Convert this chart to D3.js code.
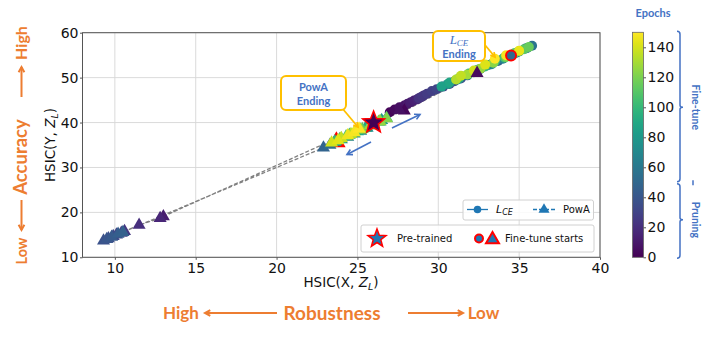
<!DOCTYPE html>
<html>
<head>
<meta charset="utf-8">
<script src="https://cdn.jsdelivr.net/npm/d3@7"></script>
<style>
  body { margin: 0; background: #fff; }
</style>
</head>
<body>
<svg id="chart" width="706" height="339"></svg>
<script>
// L_CE trajectory (epoch, HSIC(X,Z_L), HSIC(Y,Z_L))
var lceEpoch = [0,2,4,6,8,10,12,14,16,18,20,22,24,26,28,30,32,34,36,38,40,42,44,46,48,50,
  52,55,58,61,64,67,70,73,76,79,82,85,88,91,94,97,100,103,106,109,112,115,118,121,124,127,130,133,136,139,142,145,148,150];
var lceX = [26.0,27.0,27.3,27.6,27.9,28.1,28.3,28.5,28.7,28.9,29.1,28.8,29.0,29.3,29.6,29.9,30.3,30.7,31.0,31.4,31.8,32.2,32.6,33.1,33.7,34.5,
  35.0,35.5,35.8,35.4,34.8,34.0,33.3,32.5,31.8,31.2,30.6,30.2,30.7,31.3,31.9,32.4,32.9,33.5,34.1,34.7,35.3,35.6,35.0,34.2,33.4,32.6,31.8,31.1,31.4,32.2,32.9,35.0,34.2,33.5];
var lceY = [40.0,42.3,42.9,43.4,43.8,44.2,44.5,44.9,45.2,45.6,46.0,45.4,45.8,46.4,47.0,47.4,48.0,48.6,49.2,49.8,50.5,51.2,51.9,52.8,53.7,54.9,
  55.8,56.6,57.1,56.5,55.5,54.2,53.0,51.8,50.6,49.6,48.6,48.0,48.9,49.9,50.9,51.7,52.5,53.6,54.5,55.4,56.3,56.8,55.9,54.6,53.3,52.0,50.7,49.6,50.4,51.6,52.9,56.0,55.0,54.2];

// PowA trajectory
var powaEpoch = [0,2,4,6,12,16,20,24,27,30,33,36,38,40,42,44,46,48,50,
  53,56,59,62,65,68,71,74,77,80,83,86,89,92,95,98,101,104,107,110,113,116,119,122,125,128,131,134,137,140,143,146,148,150];
var powaX = [26.0,27.9,32.4,27.6,13.0,12.8,11.5,10.6,10.4,10.1,9.9,9.6,9.3,9.5,9.8,10.2,10.5,22.9,23.7,
  23.3,23.6,24.0,24.4,24.8,25.2,25.6,26.0,26.4,26.8,26.5,26.0,25.5,25.0,24.5,24.0,23.6,23.9,24.3,24.8,25.3,25.8,26.3,26.8,26.4,25.8,25.2,24.6,24.0,23.4,23.8,24.4,24.8,25.1];
var powaY = [40.0,42.6,51.0,42.8,19.1,18.7,17.2,15.8,15.4,15.0,14.7,14.2,13.7,14.0,14.5,15.2,15.6,34.4,35.7,
  35.0,35.6,36.2,36.8,37.5,38.1,38.8,39.5,40.2,41.0,40.5,39.6,38.8,38.0,37.2,36.4,35.8,36.3,36.9,37.7,38.5,39.3,40.1,40.9,40.3,39.4,38.4,37.4,36.5,35.5,36.0,37.1,37.8,38.6];

var pretrained = [26.0, 40.0];
var fineTuneEpoch = 50;

var xTicks = [10,15,20,25,30,35,40];
var yTicks = [10,20,30,40,50,60];
var cbTicks = [0,20,40,60,80,100,120,140];

var BLUE = '#4472C4', ORANGE = '#ED7D31', GOLD = '#FFC000', MPL = '#1f77b4';
var svg = d3.select('#chart');

var x = d3.scaleLinear().domain([8, 40]).range([82.5, 600]);
var y = d3.scaleLinear().domain([10, 60]).range([257.3, 32.7]);
var color = d3.scaleSequential(d3.interpolateViridis).domain([0, 150]);
var cb = d3.scaleLinear().domain([0, 150]).range([257.3, 32.3]);

var lce = lceEpoch.map(function(e, i) { return {e: e, x: lceX[i], y: lceY[i]}; });
var powa = powaEpoch.map(function(e, i) { return {e: e, x: powaX[i], y: powaY[i]}; });

function starPath(R, r) {
  var pts = d3.range(10).map(function(i) {
    var a = -Math.PI / 2 + i * Math.PI / 5, rr = i % 2 ? r : R;
    return [rr * Math.cos(a), rr * Math.sin(a)];
  });
  return 'M' + pts.join('L') + 'Z';
}
function triPath(s) {
  var h = s * Math.sqrt(3) / 2;
  return 'M0,' + (-h * 2 / 3) + 'L' + (s / 2) + ',' + (h / 3) + 'L' + (-s / 2) + ',' + (h / 3) + 'Z';
}
function arrow(g, x1, y1, x2, y2, col, w, head) {
  var a = Math.atan2(y2 - y1, x2 - x1);
  g.append('line').attr('x1', x1).attr('y1', y1).attr('x2', x2).attr('y2', y2)
    .attr('stroke', col).attr('stroke-width', w);
  var p1 = [x2 - head * Math.cos(a - 0.5), y2 - head * Math.sin(a - 0.5)];
  var p2 = [x2 - head * Math.cos(a + 0.5), y2 - head * Math.sin(a + 0.5)];
  g.append('path').attr('d', 'M' + p1 + 'L' + [x2, y2] + 'L' + p2)
    .attr('fill', 'none').attr('stroke', col).attr('stroke-width', w).attr('stroke-linejoin', 'miter');
}

// grid
var grid = svg.append('g');
grid.selectAll('line.gx').data(xTicks).join('line')
  .attr('x1', function(d) { return x(d); }).attr('x2', function(d) { return x(d); })
  .attr('y1', y(10)).attr('y2', y(60)).attr('stroke', '#d6d6d6').attr('stroke-width', 0.9);
grid.selectAll('line.gy').data(yTicks).join('line')
  .attr('y1', function(d) { return y(d); }).attr('y2', function(d) { return y(d); })
  .attr('x1', x(8)).attr('x2', x(40)).attr('stroke', '#d6d6d6').attr('stroke-width', 0.9);

// axes
function styleAxis(g) {
  g.select('.domain').remove();
  g.selectAll('line').attr('stroke', '#555');
  g.selectAll('text').attr('font-family', 'DejaVu Sans').attr('font-size', 14).attr('fill', '#111');
}
svg.append('g').attr('transform', 'translate(0,' + y(10) + ')')
  .call(d3.axisBottom(x).tickValues(xTicks).tickSize(2.5).tickPadding(3)).call(styleAxis);
svg.append('g').attr('transform', 'translate(' + x(8) + ',0)')
  .call(d3.axisLeft(y).tickValues(yTicks).tickSize(2.5).tickPadding(1.5)).call(styleAxis);

// trajectories
var plot = svg.append('g');
var line = d3.line().x(function(d) { return x(d.x); }).y(function(d) { return y(d.y); });
plot.append('path').datum(lce).attr('d', line).attr('fill', 'none')
  .attr('stroke', '#808080').attr('stroke-width', 1.2);
plot.append('path').datum(powa).attr('d', line).attr('fill', 'none')
  .attr('stroke', '#808080').attr('stroke-width', 1.3).attr('stroke-dasharray', '4,2');

plot.selectAll('circle.lce').data(lce.slice(1)).join('circle')
  .attr('cx', function(d) { return x(d.x); }).attr('cy', function(d) { return y(d.y); })
  .attr('r', 5).attr('fill', function(d) { return color(d.e); });

var powaStart = powa.filter(function(d) { return d.e === fineTuneEpoch; })[0];
plot.append('path').attr('d', triPath(15))
  .attr('transform', 'translate(' + x(powaStart.x) + ',' + y(powaStart.y) + ')')
  .attr('fill', color(fineTuneEpoch)).attr('stroke', 'red').attr('stroke-width', 2);

plot.selectAll('path.powa').data(powa.slice(1).filter(function(d) { return d.e !== fineTuneEpoch; })).join('path')
  .attr('d', triPath(13))
  .attr('transform', function(d) { return 'translate(' + x(d.x) + ',' + y(d.y) + ')'; })
  .attr('fill', function(d) { return color(d.e); });

var lceStart = lce.filter(function(d) { return d.e === fineTuneEpoch; })[0];
plot.append('circle').attr('cx', x(lceStart.x)).attr('cy', y(lceStart.y)).attr('r', 5)
  .attr('fill', color(fineTuneEpoch)).attr('stroke', 'red').attr('stroke-width', 2);

plot.append('path').attr('d', starPath(11.5, 5))
  .attr('transform', 'translate(' + x(pretrained[0]) + ',' + y(pretrained[1]) + ')')
  .attr('fill', color(0)).attr('stroke', 'red').attr('stroke-width', 1.5);

// spines
svg.append('rect').attr('x', x(8)).attr('y', y(60)).attr('width', x(40) - x(8)).attr('height', y(10) - y(60))
  .attr('fill', 'none').attr('stroke', '#555').attr('stroke-width', 1);

// axis labels
var xl = svg.append('text').attr('x', 341).attr('y', 287).attr('text-anchor', 'middle')
  .attr('font-family', 'DejaVu Sans').attr('font-size', 13.5).attr('fill', '#111');
xl.append('tspan').text('HSIC(X, ');
xl.append('tspan').attr('font-style', 'italic').text('Z');
xl.append('tspan').attr('font-style', 'italic').attr('font-size', 9.5).attr('dy', 3).text('L');
xl.append('tspan').attr('dy', -3).text(')');

var yl = svg.append('text').attr('transform', 'translate(55,145) rotate(-90)').attr('text-anchor', 'middle')
  .attr('font-family', 'DejaVu Sans').attr('font-size', 13.5).attr('fill', '#111');
yl.append('tspan').text('HSIC(Y, ');
yl.append('tspan').attr('font-style', 'italic').text('Z');
yl.append('tspan').attr('font-style', 'italic').attr('font-size', 9.5).attr('dy', 3).text('L');
yl.append('tspan').attr('dy', -3).text(')');

// annotation arrows inside the plot
var ann = svg.append('g');
arrow(ann, 392, 128, 420, 114.5, BLUE, 1.6, 6);
arrow(ann, 371, 142, 347, 154.5, BLUE, 1.6, 6);

// callout boxes
function callout(x0, y0, w, h) {
  ann.append('rect').attr('x', x0).attr('y', y0).attr('width', w).attr('height', h).attr('rx', 5)
    .attr('fill', '#fff').attr('stroke', GOLD).attr('stroke-width', 2);
}
arrow(ann, 342, 108, 358, 127, GOLD, 1.8, 5);
callout(281, 76, 65, 34);
ann.append('text').attr('x', 313.5).attr('y', 91).attr('text-anchor', 'middle')
  .attr('font-family', 'Lato').attr('font-weight', 'bold').attr('font-size', 11).attr('fill', BLUE).text('PowA');
ann.append('text').attr('x', 313.5).attr('y', 105).attr('text-anchor', 'middle')
  .attr('font-family', 'Lato').attr('font-weight', 'bold').attr('font-size', 11).attr('fill', BLUE).text('Ending');

arrow(ann, 485, 45, 495, 57, GOLD, 1.8, 5);
callout(433, 31, 52, 30);
var lt = ann.append('text').attr('x', 459).attr('y', 44).attr('text-anchor', 'middle')
  .attr('font-family', 'Liberation Serif').attr('font-style', 'italic').attr('font-size', 13).attr('fill', BLUE);
lt.append('tspan').text('L');
lt.append('tspan').attr('font-size', 9).attr('dy', 2).text('CE');
ann.append('text').attr('x', 459).attr('y', 57.5).attr('text-anchor', 'middle')
  .attr('font-family', 'Lato').attr('font-weight', 'bold').attr('font-size', 11).attr('fill', BLUE).text('Ending');

// legends
var lg = svg.append('g').attr('font-family', 'DejaVu Sans').attr('font-size', 10).attr('fill', '#111');
lg.append('rect').attr('x', 463).attr('y', 200).attr('width', 130.5).attr('height', 20).attr('rx', 2)
  .attr('fill', '#fff').attr('fill-opacity', 0.85).attr('stroke', '#d0d0d0');
lg.append('line').attr('x1', 467).attr('x2', 488).attr('y1', 209.5).attr('y2', 209.5).attr('stroke', MPL).attr('stroke-width', 1.3);
lg.append('circle').attr('cx', 477.5).attr('cy', 209.5).attr('r', 3.8).attr('fill', MPL);
var l1 = lg.append('text').attr('x', 496).attr('y', 213).attr('font-style', 'italic');
l1.append('tspan').attr('font-size', 11).text('L');
l1.append('tspan').attr('font-size', 8).attr('dy', 2).text('CE');
lg.append('line').attr('x1', 533).attr('x2', 555).attr('y1', 209.5).attr('y2', 209.5)
  .attr('stroke', MPL).attr('stroke-width', 1.3).attr('stroke-dasharray', '4,2');
lg.append('path').attr('d', triPath(11)).attr('transform', 'translate(544,209.5)').attr('fill', MPL);
lg.append('text').attr('x', 563).attr('y', 213).text('PowA');

lg.append('rect').attr('x', 361).attr('y', 225).attr('width', 233).attr('height', 27).attr('rx', 2)
  .attr('fill', '#fff').attr('fill-opacity', 0.85).attr('stroke', '#d0d0d0');
lg.append('path').attr('d', starPath(9.5, 4)).attr('transform', 'translate(377,238.5)')
  .attr('fill', MPL).attr('stroke', 'red').attr('stroke-width', 1.5);
lg.append('text').attr('x', 397).attr('y', 242).text('Pre-trained');
lg.append('circle').attr('cx', 479).attr('cy', 238.5).attr('r', 4).attr('fill', MPL).attr('stroke', 'red').attr('stroke-width', 2);
lg.append('path').attr('d', triPath(13)).attr('transform', 'translate(492.5,239.5)')
  .attr('fill', MPL).attr('stroke', 'red').attr('stroke-width', 2);
lg.append('text').attr('x', 505).attr('y', 242).text('Fine-tune starts');

// colorbar
var defs = svg.append('defs');
var grad = defs.append('linearGradient').attr('id', 'viridis').attr('x1', 0).attr('y1', 1).attr('x2', 0).attr('y2', 0);
d3.range(0, 1.0001, 0.05).forEach(function(t) {
  grad.append('stop').attr('offset', t).attr('stop-color', d3.interpolateViridis(t));
});
svg.append('rect').attr('x', 632.5).attr('y', cb(150)).attr('width', 11).attr('height', cb(0) - cb(150))
  .attr('fill', 'url(#viridis)').attr('stroke', '#666').attr('stroke-width', 0.8);
svg.append('g').attr('transform', 'translate(643.5,0)')
  .call(d3.axisRight(cb).tickValues(cbTicks).tickSize(2.5).tickPadding(1.5)).call(styleAxis);

svg.append('text').attr('x', 653).attr('y', 16.5).attr('text-anchor', 'middle')
  .attr('font-family', 'Lato').attr('font-weight', 'bold').attr('font-size', 11).attr('fill', BLUE).text('Epochs');

// braces for the two phases
function brace(xb, y1, y2, ym) {
  return 'M' + (xb - 3) + ',' + y1 + 'Q' + xb + ',' + y1 + ' ' + xb + ',' + (y1 + 3) +
    'L' + xb + ',' + (ym - 2) + 'Q' + xb + ',' + ym + ' ' + (xb + 3) + ',' + ym +
    'Q' + xb + ',' + ym + ' ' + xb + ',' + (ym + 2) +
    'L' + xb + ',' + (y2 - 3) + 'Q' + xb + ',' + y2 + ' ' + (xb - 3) + ',' + y2;
}
var br = svg.append('g').attr('fill', 'none').attr('stroke', BLUE).attr('stroke-width', 1.5);
br.append('path').attr('d', brace(680, cb(150) - 1, cb(50) - 0.5, cb(100)));
br.append('path').attr('d', brace(680, cb(50) + 1.5, cb(0) + 1, cb(25)));
br.append('line').attr('x1', 693).attr('x2', 693).attr('y1', cb(50) - 2).attr('y2', cb(50) + 3);
svg.append('text').attr('transform', 'translate(692,' + cb(100) + ') rotate(90)').attr('text-anchor', 'middle')
  .attr('font-family', 'Lato').attr('font-weight', 'bold').attr('font-size', 10.5).attr('fill', BLUE).text('Fine-tune');
svg.append('text').attr('transform', 'translate(692,' + cb(25) + ') rotate(90)').attr('text-anchor', 'middle')
  .attr('font-family', 'Lato').attr('font-weight', 'bold').attr('font-size', 10.5).attr('fill', BLUE).text('Pruning');

// orange guide text
var og = svg.append('g').attr('font-family', 'Lato').attr('font-weight', 'bold').attr('fill', ORANGE);
function vtext(cy, size, txt) {
  og.append('text').attr('transform', 'translate(27,' + cy + ') rotate(-90)').attr('text-anchor', 'middle')
    .attr('font-size', size).text(txt);
}
vtext(43, 16, 'High');
vtext(157, 18.5, 'Accuracy');
vtext(251, 14.5, 'Low');
arrow(og, 21.5, 97, 21.5, 67, ORANGE, 2, 6);
arrow(og, 21.5, 200, 21.5, 230, ORANGE, 2, 6);

og.append('text').attr('x', 181).attr('y', 319).attr('text-anchor', 'middle').attr('font-size', 17).text('High');
og.append('text').attr('x', 332).attr('y', 319.5).attr('text-anchor', 'middle').attr('font-size', 19).text('Robustness');
og.append('text').attr('x', 483.5).attr('y', 319).attr('text-anchor', 'middle').attr('font-size', 17).text('Low');
arrow(og, 277, 313, 205, 313, ORANGE, 2, 6);
arrow(og, 408, 313, 463, 313, ORANGE, 2, 6);
</script>
</body>
</html>
